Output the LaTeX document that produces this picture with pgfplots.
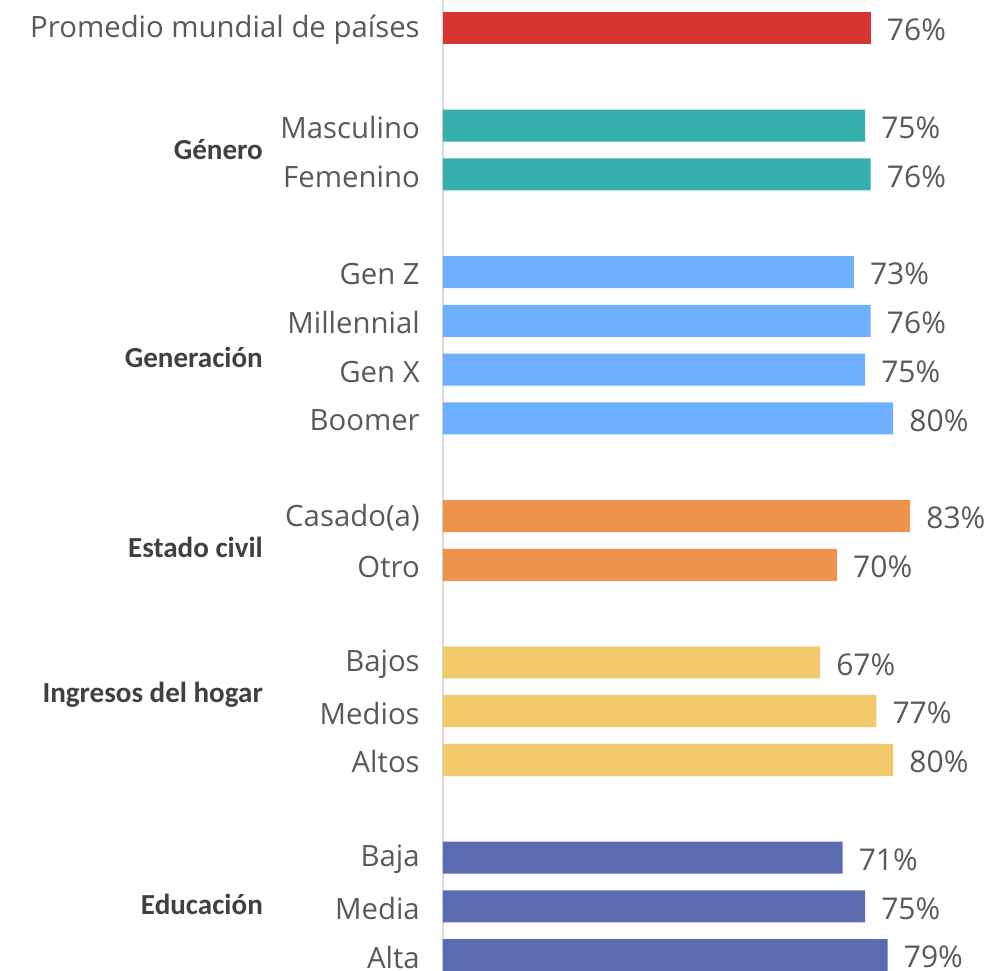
\documentclass[border=0pt]{standalone}
\usepackage{pgfplots}
\pgfplotsset{compat=1.18}
\usepackage{fontspec}
\setmainfont{Open Sans}
\newfontfamily\grp{Carlito}
\definecolor{cRed}{HTML}{D83434}
\definecolor{cTeal}{HTML}{35B0AE}
\definecolor{cLBlue}{HTML}{6FAFFF}
\definecolor{cOrange}{HTML}{EE934E}
\definecolor{cYellow}{HTML}{F2CA6C}
\definecolor{cDBlue}{HTML}{5A6BB0}
\definecolor{txt}{HTML}{595959}
\definecolor{grptxt}{HTML}{404040}
\definecolor{axln}{HTML}{D9D9D9}
\begin{document}
\begin{tikzpicture}
\begin{axis}[
 scale only axis, width=410.25pt, height=728.25pt,
 xmin=0, xmax=97.2, ymin=-0.574, ymax=19.324, y dir=reverse,
 axis line style={draw=none}, major tick length=0pt,
 xtick=\empty,
 /pgf/number format/assume math mode=true,
 ytick={0,2,3,5,6,7,8,10,11,13,14,15,17,18,19},
 yticklabels={Promedio mundial de países,Masculino,Femenino,Gen Z,Millennial,Gen X,Boomer,Casado(a),Otro,Bajos,Medios,Altos,Baja,Media,Alta},
 yticklabel style={anchor=east, inner sep=0pt, xshift=-17.25pt, yshift=-1.5pt, font=\fontsize{22}{24}\selectfont, text=txt},
 xbar, bar shift=0pt, bar width=24pt,
 point meta=x,
 nodes near coords={\pgfmathprintnumber{\pgfplotspointmeta}\%},
 nodes near coords style={anchor=west, xshift=12pt, yshift=-1.5pt, inner sep=0pt, font=\fontsize{22.5}{24}\selectfont, text=txt},
 clip=false,
]
\draw[color=axln, line width=1.5pt] (axis cs:0,-0.574) -- (axis cs:0,19.324);
\addplot[fill=cRed, draw=none] coordinates {(76,0)};
\addplot[fill=cTeal, draw=none] coordinates {(75,2) (76,3)};
\addplot[fill=cLBlue, draw=none] coordinates {(73,5) (76,6) (75,7) (80,8)};
\addplot[fill=cOrange, draw=none] coordinates {(83,10) (70,11)};
\addplot[fill=cYellow, draw=none] coordinates {(67,13) (77,14) (80,15)};
\addplot[fill=cDBlue, draw=none] coordinates {(71,17) (75,18) (79,19)};
\node[anchor=east, inner sep=0pt, text=grptxt, font=\grp\bfseries\fontsize{21.8}{24}\selectfont] at (axis cs:-31.97,2.5) {Género};
\node[anchor=east, inner sep=0pt, text=grptxt, font=\grp\bfseries\fontsize{21.8}{24}\selectfont] at (axis cs:-31.97,6.76) {Generación};
\node[anchor=east, inner sep=0pt, text=grptxt, font=\grp\bfseries\fontsize{21.8}{24}\selectfont] at (axis cs:-31.97,10.64) {Estado civil};
\node[anchor=east, inner sep=0pt, text=grptxt, font=\grp\bfseries\fontsize{21.8}{24}\selectfont] at (axis cs:-31.97,13.67) {Ingresos del hogar};
\node[anchor=east, inner sep=0pt, text=grptxt, font=\grp\bfseries\fontsize{21.8}{24}\selectfont] at (axis cs:-31.97,17.95) {Educación};
\end{axis}
\pgfresetboundingbox
\path[use as bounding box] ([xshift=-332.25pt]current axis.south west) rectangle (current axis.north east);
\end{tikzpicture}
\end{document}
